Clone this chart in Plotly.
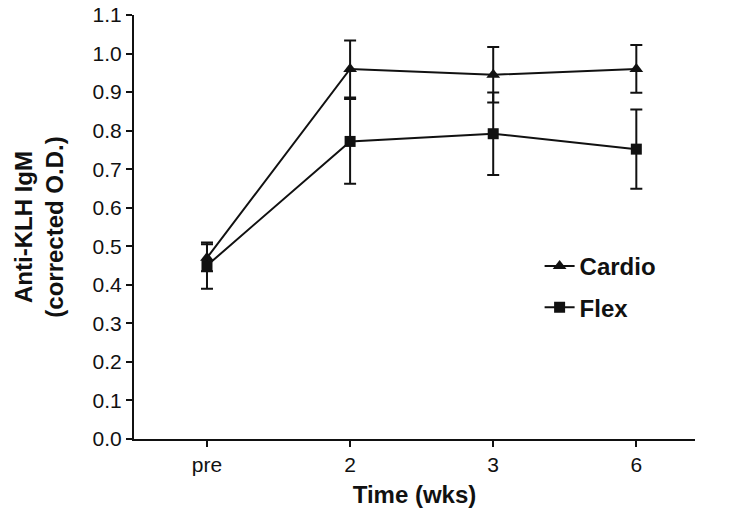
import plotly.graph_objects as go

categories = ["pre", "2", "3", "6"]
cardio = [0.47, 0.96, 0.945, 0.96]
cardio_err = [0.035, 0.074, 0.072, 0.062]
flex = [0.45, 0.772, 0.792, 0.752]
flex_err = [0.06, 0.11, 0.107, 0.103]
y_ticks = [round(i * 0.1, 1) for i in range(12)]

xpos = list(range(len(categories)))

fig = go.Figure()
fig.add_trace(go.Scatter(
    x=xpos, y=cardio, name="Cardio", mode="lines+markers", legendgroup="c",
    line=dict(color="#111", width=2),
    marker=dict(symbol="triangle-up", size=12, color="#111"),
    error_y=dict(type="data", array=cardio_err, visible=True, color="#111", thickness=2, width=6),
))
fig.add_trace(go.Scatter(
    x=xpos, y=flex, name="Flex", mode="lines+markers", legendgroup="f",
    line=dict(color="#111", width=2),
    marker=dict(symbol="square", size=11, color="#111"),
    error_y=dict(type="data", array=flex_err, visible=True, color="#111", thickness=2, width=6),
))

fig.update_layout(
    width=750, height=527,
    margin=dict(l=134, r=55, t=15, b=88),
    plot_bgcolor="white", paper_bgcolor="white",
    font=dict(family="Liberation Sans, Arial, sans-serif", color="#111"),
    showlegend=True,
    legend=dict(x=0.723, y=0.46, xanchor="left", yanchor="top",
                font=dict(size=24, family="Liberation Sans, Arial, sans-serif", weight="bold"),
                bgcolor="rgba(0,0,0,0)", itemwidth=30, tracegroupgap=7),
)
fig.update_xaxes(
    range=[-0.51, 3.41], tickmode="array", tickvals=xpos, ticktext=categories,
    showline=True, linecolor="#111", linewidth=2, ticks="outside", ticklen=6, tickwidth=2, tickcolor="#111",
    showgrid=False, zeroline=False, tickfont=dict(size=21), automargin=False,
    title=dict(text="<b>Time (wks)</b>", font=dict(size=24), standoff=11),
)
fig.update_yaxes(
    range=[0, 1.1], tickmode="array", tickvals=y_ticks, ticktext=[f"{v:.1f}" for v in y_ticks],
    showline=True, linecolor="#111", linewidth=2, ticks="outside", ticklen=6, tickwidth=2, tickcolor="#111",
    showgrid=False, zeroline=False, tickfont=dict(size=21), automargin=False,
    title=dict(text="<b>Anti-KLH IgM<br>(corrected O.D.)</b>", font=dict(size=24), standoff=22),
)

fig.write_html("out.html", config={"displayModeBar": False},
               post_script="document.body.style.margin='0';")
